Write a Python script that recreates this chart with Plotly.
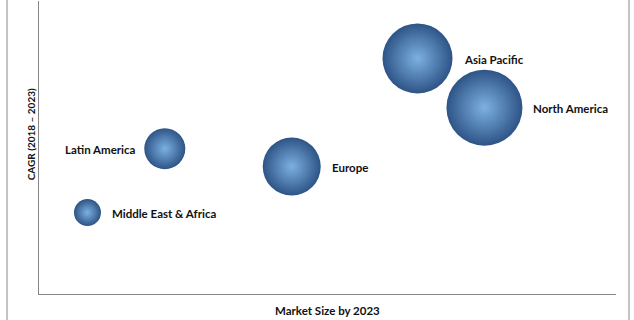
import plotly.graph_objects as go

regions = ["Middle East & Africa", "Latin America", "Europe", "Asia Pacific", "North America"]
market_size = [8.4, 21.8, 43.8, 65.6, 77.2]
cagr = [27.8, 49.6, 43.5, 80.4, 63.6]
bubble_size = [27, 41, 58, 70, 76]
label_side = ["right", "left", "right", "right", "right"]

FONT = "Lato"

fig = go.Figure()
fig.add_trace(go.Scatter(
    x=market_size, y=cagr, mode="markers",
    marker=dict(
        size=bubble_size, sizemode="diameter", sizeref=1,
        color="#2e5486",
        gradient=dict(type="radial", color="#7db0e2"),
        line=dict(width=0),
        opacity=1,
    ),
    hoverinfo="text", text=regions,
))

annotations = []
for name, xv, yv, s, side in zip(regions, market_size, cagr, bubble_size, label_side):
    annotations.append(dict(
        x=xv, y=yv, xref="x", yref="y", text=name, showarrow=False,
        xanchor="left" if side == "right" else "right",
        xshift=(s / 2 + 9) if side == "right" else -(s / 2 + 6),
        yshift=-1,
        font=dict(family=FONT, size=11.5, color="#111111", weight="bold"),
    ))

annotations.append(dict(
    x=0.5, y=-0.027, xref="paper", yref="paper", text="Market Size by 2023",
    showarrow=False, xanchor="center", yanchor="top",
    font=dict(family=FONT, size=11.5, color="#111111", weight="bold"),
))
annotations.append(dict(
    x=-0.0139, y=0.545, xref="paper", yref="paper", text="CAGR (2018 – 2023)",
    showarrow=False, textangle=-90, xanchor="center", yanchor="middle",
    font=dict(family=FONT, size=10, color="#111111", weight="bold"),
))

shapes = [
    dict(type="line", xref="paper", yref="paper", x0=-0.0554, x1=-0.0554, y0=-0.1, y1=1.01,
         line=dict(color="#c4c4c4", width=2)),
    dict(type="line", xref="paper", yref="paper", x0=1.0225, x1=1.0225, y0=-0.1, y1=1.01,
         line=dict(color="#c4c4c4", width=2)),
]

fig.update_layout(
    width=634, height=320,
    margin=dict(l=39, r=18, t=1, b=26),
    paper_bgcolor="white", plot_bgcolor="white",
    showlegend=False,
    annotations=annotations,
    shapes=shapes,
    xaxis=dict(range=[0, 100], showgrid=False, zeroline=False, showticklabels=False,
               ticks="", showline=True, linecolor="#858585", linewidth=1),
    yaxis=dict(range=[0, 100], showgrid=False, zeroline=False, showticklabels=False,
               ticks="", showline=True, linecolor="#858585", linewidth=1),
)

fig.write_html("out.html", config={"displayModeBar": False})
